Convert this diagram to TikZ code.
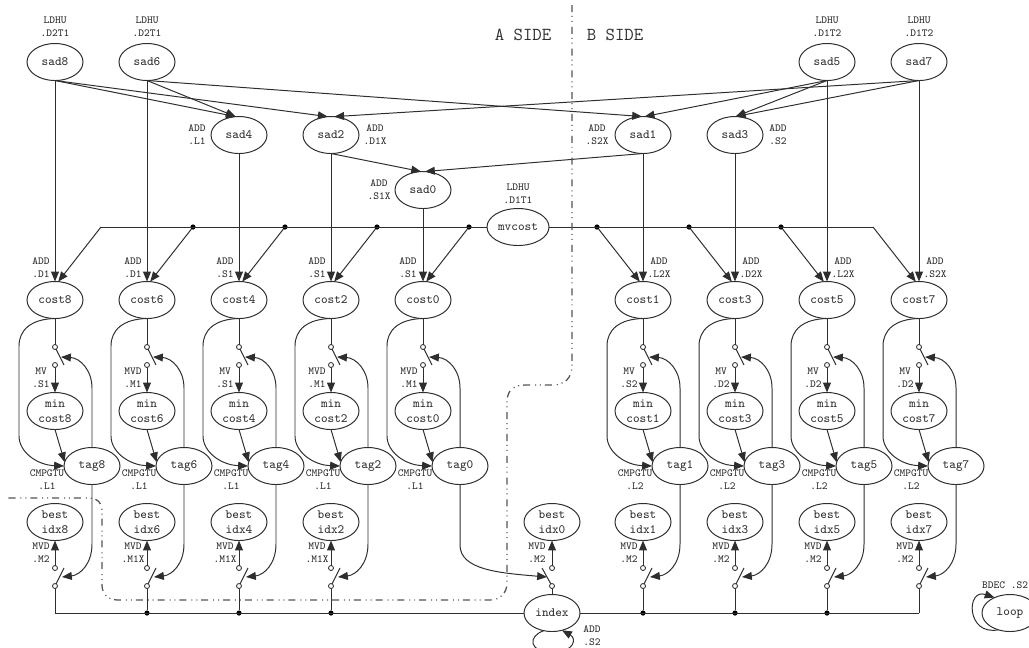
\documentclass[tikz,border=0pt]{standalone}
\usepackage{xcolor}
\definecolor{inkdark}{HTML}{2E2E2E}
\definecolor{sidegray}{HTML}{555555}
\usepackage{tikz}
\usetikzlibrary{shapes.geometric, arrows.meta}

\begin{document}
\begin{tikzpicture}[
  x=0.025cm, y=-0.025cm,
  every node/.style={font=\ttfamily, text=inkdark},
  op/.style={ellipse, draw=inkdark, line width=0.7pt, minimum width=1.4cm, minimum height=0.925cm,
             inner sep=0pt, outer sep=0pt, align=center,
             font=\fontsize{9}{10.8}\selectfont\ttfamily},
  unit/.style={align=center, inner sep=0pt, font=\fontsize{7.7}{9.3}\selectfont\ttfamily},
  side/.style={inner sep=0pt, font=\fontsize{13}{14}\selectfont\ttfamily},
  pin/.style={circle, draw=inkdark, fill=white, line width=0.6pt, minimum size=0.125cm, inner sep=0pt, outer sep=0pt},
  junction/.style={circle, fill=black, minimum size=0.13cm, inner sep=0pt, outer sep=0pt},
  wire/.style={inkdark, line width=0.7pt},
  flow/.style={-{Triangle[length=7pt,width=5.6pt]}, inkdark, line width=0.7pt},
  sideline/.style={sidegray, line width=0.9pt, dash pattern=on 5pt off 2.8pt on 0.7pt off 2.8pt on 0.7pt off 3.5pt}
]
  \useasboundingbox (0,0) rectangle (1029,647);

  % load and sum tree
  \node[op] (sad8) at (55,62) {sad8};
  \node[op] (sad6) at (147,62) {sad6};
  \node[op] (sad5) at (827,62) {sad5};
  \node[op] (sad7) at (919,62) {sad7};
  \node[op] (sad4) at (239,135) {sad4};
  \node[op] (sad2) at (331,135) {sad2};
  \node[op] (sad1) at (643,135) {sad1};
  \node[op] (sad3) at (735,135) {sad3};
  \node[op] (sad0) at (423,190) {sad0};
  \node[op, minimum width=1.55cm] (mvcost) at (518,227) {mvcost};
  \node[unit] (ls8) at (55,27) {LDHU\\.D2T1};
  \node[unit] (ls6) at (147,27) {LDHU\\.D2T1};
  \node[unit] (ls5) at (827,27) {LDHU\\.D1T2};
  \node[unit] (ls7) at (919,27) {LDHU\\.D1T2};
  \node[unit] (ls4) at (197,135) {ADD\\.L1};
  \node[unit] (ls2) at (375,135) {ADD\\.D1X};
  \node[unit] (ls1) at (597,135) {ADD\\.S2X};
  \node[unit] (ls3) at (778,135) {ADD\\.S2};
  \node[unit] (ls0) at (379,190) {ADD\\.S1X};
  \node[unit] (lmv) at (518,194) {LDHU\\.D1T1};
  \node[side] (aside) at (523,35) {A SIDE};
  \node[side] (bside) at (615,35) {B SIDE};

  \draw[flow] (sad8.south) -- (sad4.100);
  \draw[flow] (sad8.south) -- (sad2.100);
  \draw[flow] (sad6.south) -- (sad4.100);
  \draw[flow] (sad6.south) -- (sad1.93);
  \draw[flow] (sad5.south) -- (sad1.85);
  \draw[flow] (sad5.south) -- (sad3.88);
  \draw[flow] (sad7.south) -- (sad3.88);
  \draw[flow] (sad7.south) -- (sad2.80);
  \draw[flow] (sad2.south) -- (sad0.96);
  \draw[flow] (sad1.south) -- (sad0.84);

  % mvcost bus
  \coordinate (tapa) at (101,227);
  \node[junction] (tapb) at (193,227) {};
  \node[junction] (tapc) at (285,227) {};
  \node[junction] (tapd) at (377,227) {};
  \node[junction] (tape) at (469,227) {};
  \node[junction] (tapf) at (597,227) {};
  \node[junction] (tapg) at (689,227) {};
  \node[junction] (taph) at (781,227) {};
  \coordinate (tapi) at (873,227);
  \draw[wire] (mvcost.west) -- (tapa);
  \draw[wire] (mvcost.east) -- (tapi);

  % one compare and keep-minimum column per candidate
  \foreach \n/\col/\dx/\addu/\mvi/\mvu/\cmpu in {
      8/55/-14/.D1/MV/.S1/.L1, 6/147/-14/.D1/MVD/.M1/.L1, 4/239/-14/.S1/MV/.S1/.L1,
      2/331/-14/.S1/MVD/.M1/.L1, 0/423/-15/.S1/MVD/.M1/.L1, 1/643/16/.L2X/MV/.S2/.L2,
      3/735/16/.D2X/MV/.D2/.L2, 5/827/16/.L2X/MV/.D2/.L2, 7/919/16/.S2X/MV/.D2/.L2} {
    \node[op] (cost\n) at (\col,300) {cost\n};
    \node[op] (min\n) at (\col,411) {min\\cost\n};
    \node[op] (tag\n) at (\col+37,466) {tag\n};
    \node[pin] (swa\n) at (\col,347) {};
    \node[pin] (swb\n) at (\col,365) {};
    \coordinate (blade\n) at (\col+9,365);
    \coordinate (swm\n) at (\col+6,357);
    \node[unit] (la\n) at (\col+\dx,268) {ADD\\\addu};
    \node[unit] (lm\n) at (\col-14,378) {\mvi\\\mvu};
    \node[unit] (lc\n) at (\col-8,479.5) {CMPGTU\\\cmpu};
    \draw[wire] (cost\n.south) -- (swa\n);
    \draw[wire] (swa\n) -- (blade\n);
    \draw[flow] (swb\n) -- (min\n.north);
    \draw[flow] (min\n.south) -- (tag\n.172);
    \draw[flow] (cost\n.south) .. controls (\col-24,319) and (\col-36,330) .. (\col-36,346)
      -- (\col-36,436) .. controls (\col-36,452) and (\col-18,465) .. (tag\n.west);
    \draw[flow] (tag\n.north) -- (\col+37,388) .. controls (\col+37,370) and (\col+25,358) .. (swm\n);
  }

  \foreach \a/\b in {sad8/cost8, sad6/cost6, sad4/cost4, sad2/cost2, sad0/cost0,
      sad1/cost1, sad3/cost3, sad5/cost5, sad7/cost7}
    \draw[flow] (\a.south) -- (\b.north);
  \foreach \a/\b in {tapa/cost8.80, tapb/cost6.80, tapc/cost4.80, tapd/cost2.80, tape/cost0.80,
      tapf/cost1.100, tapg/cost3.100, taph/cost5.100, tapi/cost7.100}
    \draw[flow] (\a) -- (\b);

  % index bus and best index registers
  \node[op] (index) at (552,613) {index};
  \node[unit] (lidx) at (592,636) {ADD\\.S2};
  \coordinate (jct8) at (55,613);
  \node[junction] (jct6) at (147,613) {};
  \node[junction] (jct4) at (239,613) {};
  \node[junction] (jct2) at (331,613) {};
  \node[junction] (jct1) at (643,613) {};
  \node[junction] (jct3) at (735,613) {};
  \node[junction] (jct5) at (827,613) {};
  \coordinate (jct7) at (919,613);
  \draw[wire] (jct8) -- (index.west);
  \draw[wire] (index.east) -- (jct7);

  \foreach \n/\col/\mvu in {8/55/.M2, 6/147/.M1X, 4/239/.M1X, 2/331/.M1X,
      1/643/.M2, 3/735/.M2, 5/827/.M2, 7/919/.M2} {
    \node[op] (best\n) at (\col,522) {best\\idx\n};
    \node[pin] (swc\n) at (\col,568) {};
    \node[pin] (swd\n) at (\col,586) {};
    \coordinate (bladec\n) at (\col+9,568);
    \coordinate (swn\n) at (\col+7,577);
    \node[unit] (lb\n) at (\col-14,553) {MVD\\\mvu};
    \draw[flow] (swc\n) -- (best\n.south);
    \draw[wire] (swd\n) -- (bladec\n);
    \draw[wire] (swd\n) -- (jct\n);
    \draw[flow] (tag\n.south) -- (\col+37,544) .. controls (\col+37,564) and (\col+25,575) .. (swn\n);
  }

  \node[op] (best0) at (552,522) {best\\idx0};
  \node[pin] (swc0) at (552,568) {};
  \node[pin] (swd0) at (552,586) {};
  \coordinate (bladec0) at (542,568);
  \coordinate (swn0) at (547,577);
  \node[unit] (lb0) at (537,553) {MVD\\.M2};
  \draw[flow] (swc0) -- (best0.south);
  \draw[wire] (swd0) -- (bladec0);
  \draw[wire] (swd0) -- (index.north);
  \draw[flow] (tag0.south) -- (460,545) .. controls (460,570) and (500,573) .. (swn0);
  \draw[flow] (index.245) .. controls (528,636) and (528,652) .. (552,652)
    .. controls (576,652) and (576,638) .. (index.300);

  % loop counter
  \node[op] (loop) at (1010,613) {loop};
  \node[unit, anchor=east] (lloop) at (1028.5,585) {BDEC .S2};
  \draw[flow] (loop.235) .. controls (966,636) and (966,588) .. (loop.135);

  % side boundary
  \draw[sideline] (572,5) -- (572,365) .. controls (572,378) and (565,385) .. (552,385)
    -- (525,385) .. controls (512,385) and (507,392) .. (507,402)
    -- (507,583) .. controls (507,593) and (500,600) .. (490,600)
    -- (118,600) .. controls (108,600) and (102,594) .. (102,585)
    -- (102,510) .. controls (102,503) and (97,498) .. (90,498) -- (8,498);
\end{tikzpicture}
\end{document}
